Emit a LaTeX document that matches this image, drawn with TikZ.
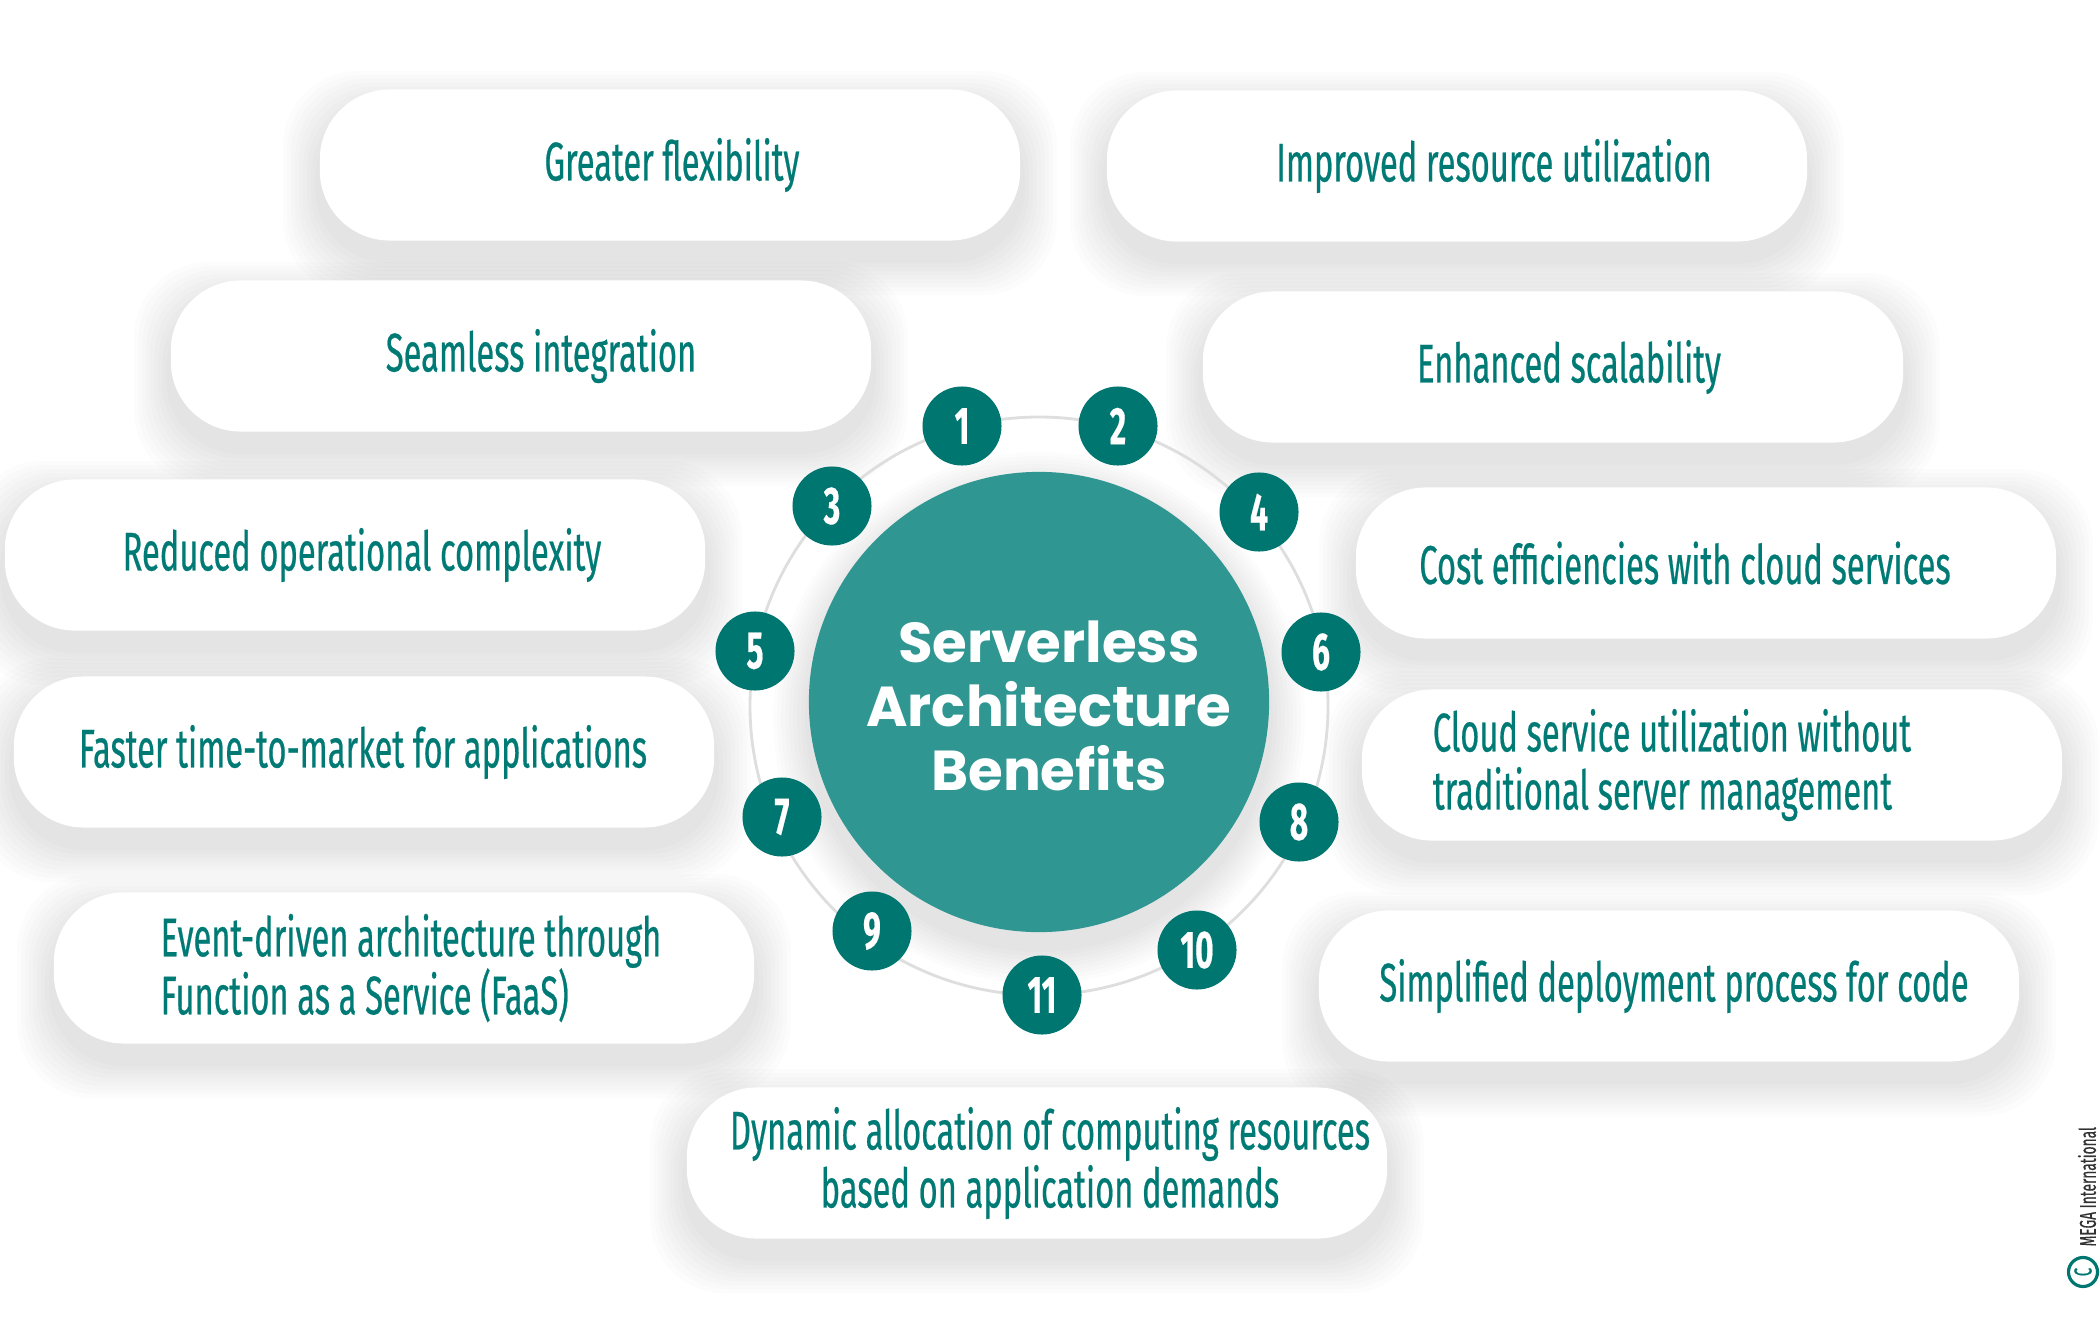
\documentclass[tikz,border=0pt]{standalone}
\usepackage{fontspec}
\setmainfont{Fira Sans}
\newfontfamily\condfont{Fira Sans}[FakeStretch=0.6, FakeBold=0.4]
\newfontfamily\hubfont{Poppins}
\usetikzlibrary{positioning,calc,backgrounds}
\definecolor{tealdark}{RGB}{0,118,112}
\definecolor{tealhub}{RGB}{47,150,146}
\definecolor{tealtext}{RGB}{0,122,116}
\definecolor{ringgrey}{RGB}{222,222,222}
\definecolor{markgrey}{RGB}{50,50,50}

\begin{document}
\begin{tikzpicture}[
  x=0.01cm, y=-0.01cm,
  pill/.style={fill=white, rounded corners=7mm, minimum width=70mm, minimum height=15.1mm},
  haze/.style={fill=black, opacity=0.011, rounded corners=7.5mm},
  txt/.style={font=\condfont\fontsize{15.5}{16.5}\selectfont, text=tealtext, align=left, inner sep=0pt},
  num/.style={circle, fill=tealdark, minimum size=7.9mm, inner sep=0pt, text=white,
    font=\condfont\bfseries\fontsize{15}{15}\selectfont},
  hub/.style={circle, fill=tealhub, minimum size=46mm, inner sep=0pt},
]
  \useasboundingbox (0,0) rectangle (2100,1321);

  % benefit pills
  \node[pill] (p1) at (670,165) {};
  \node[txt] (t1) at (672,165) {Greater flexibility};
  \node[pill] (p2) at (1457,166) {};
  \node[txt] (t2) at (1494,166) {Improved resource utilization};
  \node[pill] (p3) at (521,356) {};
  \node[txt] (t3) at (541,356) {Seamless integration};
  \node[pill] (p4) at (1553,367) {};
  \node[txt] (t4) at (1569,367) {Enhanced scalability};
  \node[pill] (p5) at (355,555) {};
  \node[txt] (t5) at (362,555) {Reduced operational complexity};
  \node[pill] (p6) at (1706,563) {};
  \node[txt] (t6) at (1685,563) {Cost efficiencies with cloud services};
  \node[pill] (p7) at (364,752) {};
  \node[txt] (t7) at (363,752) {Faster time-to-market for applications};
  \node[pill] (p8) at (1712,765) {};
  \node[txt] (t8) at (1672,765) {Cloud service utilization without\\traditional server management};
  \node[pill] (p9) at (404,968) {};
  \node[txt] (t9) at (411,968) {Event-driven architecture through\\Function as a Service (FaaS)};
  \node[pill] (p10) at (1669,986) {};
  \node[txt] (t10) at (1674,986) {Simplified deployment process for code};
  \node[pill] (p11) at (1037,1163) {};
  \node[txt, align=center] (t11) at (1050,1163) {Dynamic allocation of computing resources\\based on application demands};

  % ring and numbers
  \coordinate (ring) at (1039,706);
  \draw[ringgrey, line width=0.8pt] (ring) circle[radius=289];
  \node[num] (n1) at (962,426) {1};
  \node[num] (n2) at (1118,426) {2};
  \node[num] (n3) at (832,506) {3};
  \node[num] (n4) at (1259,512) {4};
  \node[num] (n5) at (755,651) {5};
  \node[num] (n6) at (1321,652) {6};
  \node[num] (n7) at (782,817) {7};
  \node[num] (n8) at (1299,822) {8};
  \node[num] (n9) at (872,931) {9};
  \node[num] (n10) at (1197,950) {10};
  \node[num] (n11) at (1042,995) {11};

  % centre
  \node[hub] (hub) at (1039,702) {};
  \node[font=\hubfont\bfseries\fontsize{16}{18.2}\selectfont, text=white, align=center] (title)
    at (1049,706) {Serverless\\Architecture\\Benefits};

  % copyright mark
  \node[circle, draw=tealdark, line width=0.9pt, minimum size=2.9mm, inner sep=0pt, text=tealdark,
    font=\condfont\fontsize{7}{7}\selectfont, rotate=90] (cmark) at (2083,1272) {C};
  \node[rotate=90, anchor=west, inner sep=0pt, text=markgrey,
    font=\condfont\fontsize{6.5}{7}\selectfont] (mega) at (2087,1247) {MEGA International};

  % soft shadows
  \begin{scope}[on background layer]
    \fill[white] (0,0) rectangle (2100,1321);
    \foreach \p in {p1,p2,p3,p4,p5,p6,p7,p8,p9,p10,p11}
      \foreach \s in {1,...,9}
        \fill[haze] ($(\p.south west)+(-\s*4,\s*4+18)$) rectangle ($(\p.north east)+(\s*4,-\s*4+18)$);
    \foreach \s in {1,...,9}
      \fill[black, opacity=0.012] ($(hub.center)+(0,16)$) circle[radius=230+\s*4];
  \end{scope}
\end{tikzpicture}
\end{document}
